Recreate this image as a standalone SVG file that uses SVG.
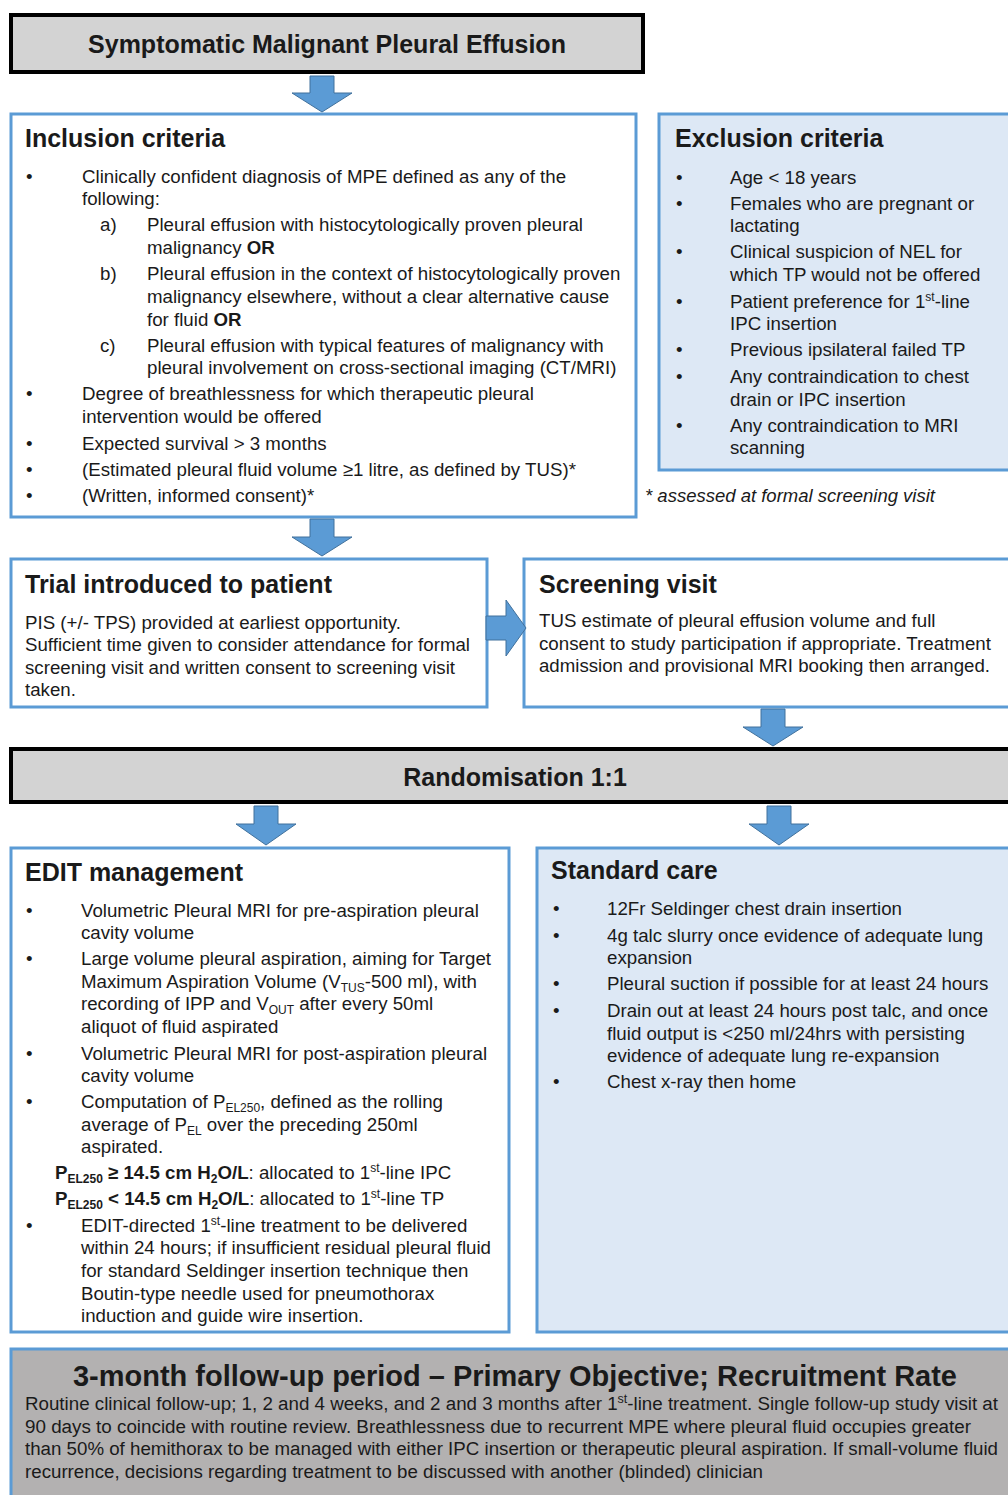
<svg xmlns="http://www.w3.org/2000/svg" width="1008" height="1495" viewBox="0 0 1008 1495">
<style>
text{font-family:"Liberation Sans",Arial,sans-serif;fill:#1a1a1a}
.h{font-weight:bold;font-size:25px}
.b{font-size:18.7px}
.s{font-size:18.7px}
.bold{font-weight:bold}
.sup{font-size:12px}
.blk{fill:#d3d3d3;stroke:#000;stroke-width:4}
.wb{fill:#fff;stroke:#5b9bd5;stroke-width:3}
.lb{fill:#dde8f5;stroke:#5b9bd5;stroke-width:3}
.arr{fill:#5b9bd5;stroke:#41719c;stroke-width:1}
</style>
<rect width="1008" height="1495" fill="#fff"/>

<g id="title">
<rect class="blk" x="11" y="15" width="632" height="57"/>
<text class="h" x="327" y="53" text-anchor="middle">Symptomatic Malignant Pleural Effusion</text>
</g>

<g id="inclusion">
<rect class="wb" x="11" y="114" width="625" height="403"/>
<text class="h" x="25" y="147">Inclusion criteria</text>
<g class="b">
<text x="26" y="183">•</text>
<text x="82" y="183">Clinically confident diagnosis of MPE defined as any of the</text>
<text x="82" y="205">following:</text>
<text x="100" y="231">a)</text>
<text x="147" y="231">Pleural effusion with histocytologically proven pleural</text>
<text x="147" y="254">malignancy <tspan class="bold">OR</tspan></text>
<text x="100" y="280">b)</text>
<text x="147" y="280">Pleural effusion in the context of histocytologically proven</text>
<text x="147" y="303">malignancy elsewhere, without a clear alternative cause</text>
<text x="147" y="326">for fluid <tspan class="bold">OR</tspan></text>
<text x="100" y="352">c)</text>
<text x="147" y="352">Pleural effusion with typical features of malignancy with</text>
<text x="147" y="374">pleural involvement on cross-sectional imaging (CT/MRI)</text>
<text x="26" y="400">•</text>
<text x="82" y="400">Degree of breathlessness for which therapeutic pleural</text>
<text x="82" y="423">intervention would be offered</text>
<text x="26" y="450">•</text>
<text x="82" y="450">Expected survival &gt; 3 months</text>
<text x="26" y="476">•</text>
<text x="82" y="476">(Estimated pleural fluid volume ≥1 litre, as defined by TUS)*</text>
<text x="26" y="502">•</text>
<text x="82" y="502">(Written, informed consent)*</text>
</g>
</g>

<g id="exclusion">
<rect class="lb" x="659" y="114" width="352" height="356"/>
<text class="h" x="675" y="147">Exclusion criteria</text>
<g class="b">
<text x="676" y="184">•</text><text x="730" y="184">Age &lt; 18 years</text>
<text x="676" y="210">•</text><text x="730" y="210">Females who are pregnant or</text>
<text x="730" y="232">lactating</text>
<text x="676" y="258">•</text><text x="730" y="258">Clinical suspicion of NEL for</text>
<text x="730" y="281">which TP would not be offered</text>
<text x="676" y="308">•</text><text x="730" y="308">Patient preference for 1<tspan class="sup" dy="-7">st</tspan><tspan dy="7">-line</tspan></text>
<text x="730" y="330">IPC insertion</text>
<text x="676" y="356">•</text><text x="730" y="356">Previous ipsilateral failed TP</text>
<text x="676" y="383">•</text><text x="730" y="383">Any contraindication to chest</text>
<text x="730" y="406">drain or IPC insertion</text>
<text x="676" y="432">•</text><text x="730" y="432">Any contraindication to MRI</text>
<text x="730" y="454">scanning</text>
</g>
</g>

<g id="footnote">
<text x="645" y="502" font-size="18.5" font-style="italic">* assessed at formal screening visit</text>
</g>

<g id="trial">
<rect class="wb" x="11" y="559" width="476" height="148"/>
<text class="h" x="25" y="593">Trial introduced to patient</text>
<g class="s">
<text x="25" y="629">PIS (+/- TPS) provided at earliest opportunity.</text>
<text x="25" y="651" textLength="445" lengthAdjust="spacingAndGlyphs">Sufficient time given to consider attendance for formal</text>
<text x="25" y="674">screening visit and written consent to screening visit</text>
<text x="25" y="696">taken.</text>
</g>
</g>

<g id="screening">
<rect class="wb" x="524" y="559" width="487" height="148"/>
<text class="h" x="539" y="593">Screening visit</text>
<g class="s">
<text x="539" y="627">TUS estimate of pleural effusion volume and full</text>
<text x="539" y="650" textLength="452" lengthAdjust="spacingAndGlyphs">consent to study participation if appropriate. Treatment</text>
<text x="539" y="672" textLength="451" lengthAdjust="spacingAndGlyphs">admission and provisional MRI booking then arranged.</text>
</g>
</g>

<g id="randomisation">
<rect class="blk" x="11" y="749" width="1002" height="53"/>
<text class="h" x="515" y="786" text-anchor="middle">Randomisation 1:1</text>
</g>

<g id="edit">
<rect class="wb" x="11" y="848" width="498" height="484"/>
<text class="h" x="25" y="881">EDIT management</text>
<g class="b">
<text x="26" y="917">•</text><text x="81" y="917">Volumetric Pleural MRI for pre-aspiration pleural</text>
<text x="81" y="939">cavity volume</text>
<text x="26" y="965">•</text><text x="81" y="965">Large volume pleural aspiration, aiming for Target</text>
<text x="81" y="988">Maximum Aspiration Volume (V<tspan class="sup" dy="4">TUS</tspan><tspan dy="-4">-500 ml), with</tspan></text>
<text x="81" y="1010">recording of IPP and V<tspan class="sup" dy="4">OUT</tspan><tspan dy="-4"> after every 50ml</tspan></text>
<text x="81" y="1033">aliquot of fluid aspirated</text>
<text x="26" y="1060">•</text><text x="81" y="1060">Volumetric Pleural MRI for post-aspiration pleural</text>
<text x="81" y="1082">cavity volume</text>
<text x="26" y="1108">•</text><text x="81" y="1108">Computation of P<tspan class="sup" dy="4">EL250</tspan><tspan dy="-4">, defined as the rolling</tspan></text>
<text x="81" y="1131">average of P<tspan class="sup" dy="4">EL</tspan><tspan dy="-4"> over the preceding 250ml</tspan></text>
<text x="81" y="1153">aspirated.</text>
<text x="55" y="1179"><tspan class="bold">P</tspan><tspan class="sup bold" dy="4">EL250</tspan><tspan class="bold" dy="-4"> ≥ 14.5 cm H</tspan><tspan class="sup bold" dy="4">2</tspan><tspan class="bold" dy="-4">O/L</tspan>: allocated to 1<tspan class="sup" dy="-7">st</tspan><tspan dy="7">-line IPC</tspan></text>
<text x="55" y="1205"><tspan class="bold">P</tspan><tspan class="sup bold" dy="4">EL250</tspan><tspan class="bold" dy="-4"> &lt; 14.5 cm H</tspan><tspan class="sup bold" dy="4">2</tspan><tspan class="bold" dy="-4">O/L</tspan>: allocated to 1<tspan class="sup" dy="-7">st</tspan><tspan dy="7">-line TP</tspan></text>
<text x="26" y="1232">•</text><text x="81" y="1232">EDIT-directed 1<tspan class="sup" dy="-7">st</tspan><tspan dy="7">-line treatment to be delivered</tspan></text>
<text x="81" y="1254">within 24 hours; if insufficient residual pleural fluid</text>
<text x="81" y="1277">for standard Seldinger insertion technique then</text>
<text x="81" y="1300">Boutin-type needle used for pneumothorax</text>
<text x="81" y="1322">induction and guide wire insertion.</text>
</g>
</g>

<g id="standard">
<rect class="lb" x="537" y="848" width="474" height="484"/>
<text class="h" x="551" y="879">Standard care</text>
<g class="b">
<text x="553" y="915">•</text><text x="607" y="915">12Fr Seldinger chest drain insertion</text>
<text x="553" y="942">•</text><text x="607" y="942">4g talc slurry once evidence of adequate lung</text>
<text x="607" y="964">expansion</text>
<text x="553" y="990">•</text><text x="607" y="990">Pleural suction if possible for at least 24 hours</text>
<text x="553" y="1017">•</text><text x="607" y="1017">Drain out at least 24 hours post talc, and once</text>
<text x="607" y="1040">fluid output is &lt;250 ml/24hrs with persisting</text>
<text x="607" y="1062">evidence of adequate lung re-expansion</text>
<text x="553" y="1088">•</text><text x="607" y="1088">Chest x-ray then home</text>
</g>
</g>

<g id="followup">
<rect x="11" y="1349" width="1002" height="150" fill="#b3b1b1" stroke="#5b9bd5" stroke-width="3"/>
<text x="515" y="1386" text-anchor="middle" font-weight="bold" font-size="30" textLength="884" lengthAdjust="spacingAndGlyphs">3-month follow-up period – Primary Objective; Recruitment Rate</text>
<g font-size="18">
<text x="25" y="1410" textLength="973" lengthAdjust="spacingAndGlyphs">Routine clinical follow-up; 1, 2 and 4 weeks, and 2 and 3 months after 1<tspan class="sup" dy="-7">st</tspan><tspan dy="7">-line treatment. Single follow-up study visit at</tspan></text>
<text x="25" y="1433" textLength="946" lengthAdjust="spacingAndGlyphs">90 days to coincide with routine review. Breathlessness due to recurrent MPE where pleural fluid occupies greater</text>
<text x="25" y="1455" textLength="973" lengthAdjust="spacingAndGlyphs">than 50% of hemithorax to be managed with either IPC insertion or therapeutic pleural aspiration. If small-volume fluid</text>
<text x="25" y="1478" textLength="738" lengthAdjust="spacingAndGlyphs">recurrence, decisions regarding treatment to be discussed with another (blinded) clinician</text>
</g>
</g>

<g id="connectors">
<polygon class="arr" points="310,76 334,76 334,93 352,93 322,112 292,93 310,93"/>
<polygon class="arr" points="310,519 334,519 334,537 352,537 322,556 292,537 310,537"/>
<polygon class="arr" points="486,616 506,616 506,600 526,628 506,656 506,640 486,640"/>
<polygon class="arr" points="761,709 785,709 785,727 803,727 773,746 743,727 761,727"/>
<polygon class="arr" points="254,806 278,806 278,824 296,824 266,845 236,824 254,824"/>
<polygon class="arr" points="767,806 791,806 791,824 809,824 779,845 749,824 767,824"/>
</g>
</svg>
